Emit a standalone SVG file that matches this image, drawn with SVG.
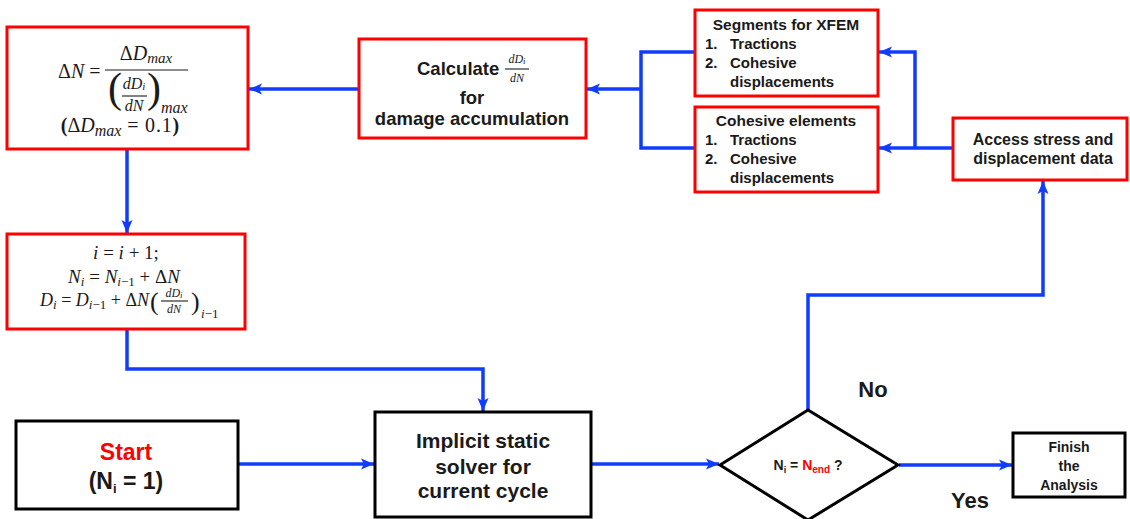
<svg xmlns="http://www.w3.org/2000/svg" width="1130" height="519" viewBox="0 0 1130 519">
<defs>
<marker id="ah" markerUnits="userSpaceOnUse" markerWidth="14" markerHeight="14" viewBox="0 0 14 14" refX="13" refY="7" orient="auto">
<path d="M0,1.5 L13,7 L0,12.5 L3,7 Z" fill="#0f3cff"/>
</marker>
<style>
.conn{fill:none;stroke:#0f3cff;stroke-width:3.5;}
.arr{marker-end:url(#ah);}
.rb{fill:#fff;stroke:#ff0000;stroke-width:3;}
.kb{fill:#fff;stroke:#000;stroke-width:3;}
.sans{font-family:"Liberation Sans",Arial,sans-serif;font-weight:bold;fill:#1a1a1a;}
.math{font-family:"Liberation Serif","Times New Roman",serif;fill:#1a1a1a;}
.it{font-style:italic;}
.bar{stroke:#1a1a1a;stroke-width:1.1;}
</style>
</defs>
<g id="connectors">
<path class="conn arr" d="M359,89 L249,89"/>
<path class="conn arr" d="M127,149 L127,233"/>
<path class="conn arr" d="M127,329 L127,369 L483,369 L483,411"/>
<path class="conn arr" d="M238,464 L374,464"/>
<path class="conn arr" d="M591,464 L719,464"/>
<path class="conn arr" d="M899,465 L1012,465"/>
<path class="conn arr" d="M808,410 L808,295 L1043,295 L1043,181"/>
<path class="conn arr" d="M953,148 L879,148"/>
<path class="conn arr" d="M915,148 L915,52 L879,52"/>
<path class="conn" d="M695,52 L641,52 L641,148 L695,148"/>
<path class="conn arr" d="M641,89 L587,89"/>
</g>
<g id="node-deltaN">
<rect class="rb" x="7" y="27" width="241" height="122"/>
<text class="math" x="58" y="78" font-size="20">Δ<tspan class="it">N</tspan> =</text>
<text class="math" x="146" y="60" font-size="20" text-anchor="middle">Δ<tspan class="it">D</tspan><tspan class="it" font-size="15" dy="3">max</tspan></text>
<line class="bar" x1="105" y1="70" x2="188" y2="70"/>
<text class="math" x="108" y="102" font-size="42">(</text>
<text class="math" x="147" y="102" font-size="42">)</text>
<text class="math it" x="134" y="89" font-size="16" text-anchor="middle">dD<tspan font-size="11" dy="1">i</tspan></text>
<line class="bar" x1="122" y1="96" x2="147" y2="96"/>
<text class="math it" x="134" y="111" font-size="16" text-anchor="middle">dN</text>
<text class="math it" x="161" y="113" font-size="16">max</text>
<text class="math" x="120" y="132" font-size="20" text-anchor="middle" font-weight="bold">(<tspan font-weight="normal">Δ</tspan><tspan font-weight="normal" class="it">D</tspan><tspan class="it" font-weight="normal" font-size="16" dy="4">max</tspan><tspan dy="-4" font-weight="normal" letter-spacing="0.8"> = 0.1</tspan>)</text>
</g>
<g id="node-update">
<rect class="rb" x="7" y="234" width="238" height="95"/>
<text class="math" x="126" y="259" font-size="19" text-anchor="middle"><tspan class="it">i</tspan> = <tspan class="it">i</tspan> + 1;</text>
<text class="math" x="124" y="283" font-size="19" text-anchor="middle"><tspan class="it">N</tspan><tspan class="it" font-size="13" dy="3">i</tspan><tspan dy="-3"> = </tspan><tspan class="it">N</tspan><tspan class="it" font-size="13" dy="3">i</tspan><tspan font-size="13">−1</tspan><tspan dy="-3"> + Δ</tspan><tspan class="it">N</tspan></text>
<text class="math" x="40" y="306" font-size="18"><tspan class="it">D</tspan><tspan class="it" font-size="13" dy="3">i</tspan><tspan dy="-3"> = </tspan><tspan class="it">D</tspan><tspan class="it" font-size="13" dy="3">i</tspan><tspan font-size="13">−1</tspan><tspan dy="-3"> + Δ</tspan><tspan class="it">N</tspan></text>
<text class="math" x="150" y="310" font-size="26">(</text>
<text class="math" x="191" y="310" font-size="26">)</text>
<text class="math it" x="174" y="297" font-size="12" text-anchor="middle">dD<tspan font-size="9" dy="1">i</tspan></text>
<line class="bar" x1="161" y1="301" x2="188" y2="301"/>
<text class="math it" x="174" y="313" font-size="12" text-anchor="middle">dN</text>
<text class="math" x="201" y="318" font-size="13"><tspan class="it">i</tspan>−1</text>
</g>
<g id="node-calculate">
<rect class="rb" x="359" y="39" width="227" height="99"/>
<text class="sans" x="417" y="75" font-size="18.5">Calculate</text>
<text class="math it" x="517" y="63" font-size="12" text-anchor="middle">dD<tspan font-size="9" dy="1">i</tspan></text>
<line class="bar" x1="505" y1="69" x2="529" y2="69"/>
<text class="math it" x="517" y="82" font-size="12" text-anchor="middle">dN</text>
<text class="sans" x="472" y="104" font-size="18.5" text-anchor="middle">for</text>
<text class="sans" x="472" y="125" font-size="18.5" text-anchor="middle">damage accumulation</text>
</g>
<g id="node-xfem">
<rect class="rb" x="695" y="10" width="183" height="86"/>
<text class="sans" x="786" y="30" font-size="15.5" text-anchor="middle">Segments for XFEM</text>
<text class="sans" x="705" y="49" font-size="15">1.</text>
<text class="sans" x="730" y="49" font-size="15">Tractions</text>
<text class="sans" x="705" y="68" font-size="15">2.</text>
<text class="sans" x="730" y="68" font-size="15">Cohesive</text>
<text class="sans" x="730" y="87" font-size="15">displacements</text>
</g>
<g id="node-cohesive">
<rect class="rb" x="695" y="107" width="183" height="85"/>
<text class="sans" x="786" y="126" font-size="15.5" text-anchor="middle">Cohesive elements</text>
<text class="sans" x="705" y="145" font-size="15">1.</text>
<text class="sans" x="730" y="145" font-size="15">Tractions</text>
<text class="sans" x="705" y="164" font-size="15">2.</text>
<text class="sans" x="730" y="164" font-size="15">Cohesive</text>
<text class="sans" x="730" y="183" font-size="15">displacements</text>
</g>
<g id="node-access">
<rect class="rb" x="953" y="118" width="174" height="62"/>
<text class="sans" x="1043" y="145" font-size="16" text-anchor="middle">Access stress and</text>
<text class="sans" x="1043" y="164" font-size="16" text-anchor="middle">displacement data</text>
</g>
<g id="node-start">
<rect class="kb" x="16" y="421" width="222" height="88"/>
<text class="sans" x="126" y="460" font-size="23" text-anchor="middle" style="fill:#ff0000">Start</text>
<text class="sans" x="126" y="489" font-size="23" text-anchor="middle">(N<tspan font-size="13" dy="4">i</tspan><tspan dy="-4"> = 1)</tspan></text>
</g>
<g id="node-solver">
<rect class="kb" x="375" y="412" width="216" height="105"/>
<text class="sans" x="483" y="448" font-size="21" text-anchor="middle">Implicit static</text>
<text class="sans" x="483" y="474" font-size="21" text-anchor="middle">solver for</text>
<text class="sans" x="483" y="498" font-size="21" text-anchor="middle">current cycle</text>
</g>
<g id="node-decision">
<polygon points="720,465 808,410 898,465 808,520" fill="#fff" stroke="#000" stroke-width="3"/>
<text class="sans" x="808" y="470" font-size="14" text-anchor="middle" font-weight="normal">N<tspan font-size="9" dy="3">i</tspan><tspan dy="-3"> = </tspan><tspan style="fill:#ff0000">N</tspan><tspan style="fill:#ff0000" font-size="10" dy="3">end</tspan><tspan dy="-3"> ?</tspan></text>
</g>
<g id="node-finish">
<rect class="kb" x="1013" y="433" width="112" height="64"/>
<text class="sans" x="1069" y="452" font-size="14" text-anchor="middle">Finish</text>
<text class="sans" x="1069" y="471" font-size="14" text-anchor="middle">the</text>
<text class="sans" x="1069" y="490" font-size="14" text-anchor="middle">Analysis</text>
</g>
<g id="labels">
<text class="sans" x="873" y="397" font-size="22" text-anchor="middle">No</text>
<text class="sans" x="970" y="508" font-size="22" text-anchor="middle">Yes</text>
</g>
</svg>
